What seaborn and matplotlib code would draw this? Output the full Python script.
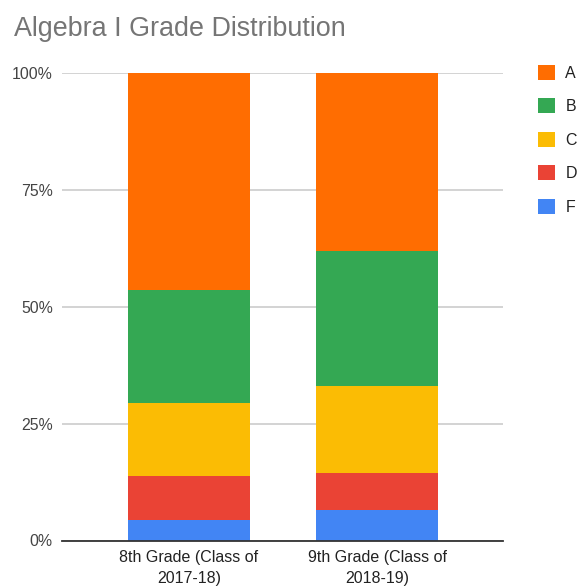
import textwrap

import matplotlib
matplotlib.use("Agg")
import matplotlib.pyplot as plt
from matplotlib.patches import Patch
from matplotlib.ticker import FuncFormatter
import numpy as np
import pandas as pd
import seaborn as sns

# Share of students earning each grade (percent of class)
categories = ["8th Grade (Class of 2017-18)", "9th Grade (Class of 2018-19)"]
grades = ["A", "B", "C", "D", "F"]
pct_A = [46.5, 38.1]
pct_B = [24.0, 28.8]
pct_C = [15.6, 18.6]
pct_D = [9.5, 8.0]
pct_F = [4.4, 6.5]
y_ticks = [0, 25, 50, 75, 100]

grade_colors = {
    "A": "#FF6D01",
    "B": "#34A853",
    "C": "#FBBC04",
    "D": "#EA4335",
    "F": "#4285F4",
}

shares = pd.DataFrame(
    {"A": pct_A, "B": pct_B, "C": pct_C, "D": pct_D, "F": pct_F},
    index=categories,
)

sns.set_theme(style="white")
plt.rcParams["font.family"] = ["Liberation Sans", "DejaVu Sans"]

W, H = 577, 586
fig = plt.figure(figsize=(W / 100, H / 100), dpi=100)
ax = fig.add_axes([62 / W, (H - 540.5) / H, 441 / W, 467.5 / H])

# Stack from the bottom: F, D, C, B, A. Draw the tallest cumulative bar first
# so that each lower segment sits on top of it.
stack_order = ["F", "D", "C", "B", "A"]
cum = shares[stack_order].cumsum(axis=1)
for g in reversed(stack_order):
    sns.barplot(
        x=categories,
        y=cum[g].values,
        color=grade_colors[g],
        saturation=1,
        width=0.647,
        linewidth=0,
        ax=ax,
        zorder=3,
    )

ax.set_xlim(-0.675, 1.67)
ax.set_ylim(0, 100)
ax.set_yticks(y_ticks)
ax.yaxis.set_major_formatter(FuncFormatter(lambda v, _: f"{v:.0f}%"))
ax.set_xticks(range(len(categories)))
ax.set_xticklabels([textwrap.fill(c, 19) for c in categories],
                   linespacing=1.45)
ax.set_xlabel("")
ax.set_ylabel("")

ax.yaxis.grid(True, color="#CCCCCC", linewidth=1.2, zorder=0)
ax.set_axisbelow(True)
for side in ["top", "right", "left"]:
    ax.spines[side].set_visible(False)
ax.spines["bottom"].set_color("#333333")
ax.spines["bottom"].set_linewidth(1.3)
ax.spines["bottom"].set_zorder(4)

ax.tick_params(axis="y", length=0, pad=6.5, labelsize=11.4, labelcolor="#444444")
ax.tick_params(axis="x", length=0, pad=7, labelsize=11.5, labelcolor="#222222")

fig.text(14 / W, 1 - 36 / H, "Algebra I Grade Distribution",
         fontsize=19.4, color="#757575", ha="left", va="baseline")

handles = [Patch(facecolor=grade_colors[g], edgecolor="none", label=g) for g in grades]
fig.legend(
    handles=handles,
    loc="upper left",
    bbox_to_anchor=(538 / W, 1 - 65 / H),
    frameon=False,
    fontsize=11.5,
    handlelength=1.06,
    handleheight=1.06,
    handletextpad=0.65,
    labelspacing=1.1,
    borderpad=0,
    borderaxespad=0,
    labelcolor="#222222",
)

fig.savefig("out.png", dpi=100)
